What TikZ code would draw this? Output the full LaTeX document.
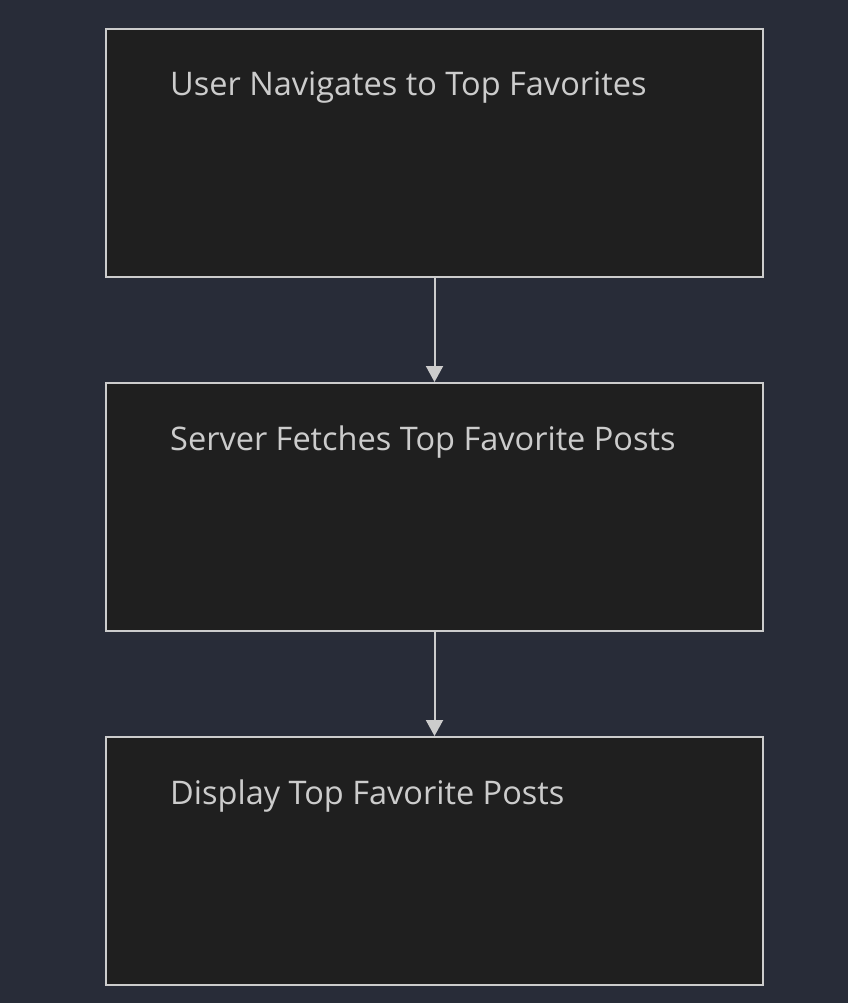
\documentclass[tikz,border=0pt]{standalone}
\usepackage{fontspec}
\setmainfont{Open Sans}
\usetikzlibrary{arrows.meta}
\definecolor{bgc}{HTML}{282C38}
\definecolor{boxfill}{HTML}{1F1F1F}
\definecolor{boxline}{HTML}{CCCCCC}
\definecolor{txt}{HTML}{CCCCCC}
\tikzset{
  stepbox/.style={draw=boxline, fill=boxfill, line width=2pt, minimum width=657pt, minimum height=248pt, inner sep=0pt, anchor=north west},
  lbl/.style={text=txt, font=\fontsize{32.5pt}{38pt}\selectfont, anchor=base west, inner sep=0pt},
  conn/.style={draw=boxline, line width=2pt, -{Triangle[length=16pt,width=17pt]}}
}
\begin{document}
\begin{tikzpicture}[x=1pt,y=-1pt]
\fill[bgc] (0,0) rectangle (848,1003);
\useasboundingbox (0,0) rectangle (848,1003);
\node[stepbox] (a) at (105,28) {};
\node[stepbox] (b) at (105,382) {};
\node[stepbox] (c) at (105,736) {};
\node[lbl] (ta) at (170,96) {User Navigates to Top Favorites};
\node[lbl] (tb) at (170,450) {Server Fetches Top Favorite Posts};
\node[lbl] (tc) at (170,804) {Display Top Favorite Posts};
\draw[conn] (a.south) -- (b.north);
\draw[conn] (b.south) -- (c.north);
\end{tikzpicture}
\end{document}
